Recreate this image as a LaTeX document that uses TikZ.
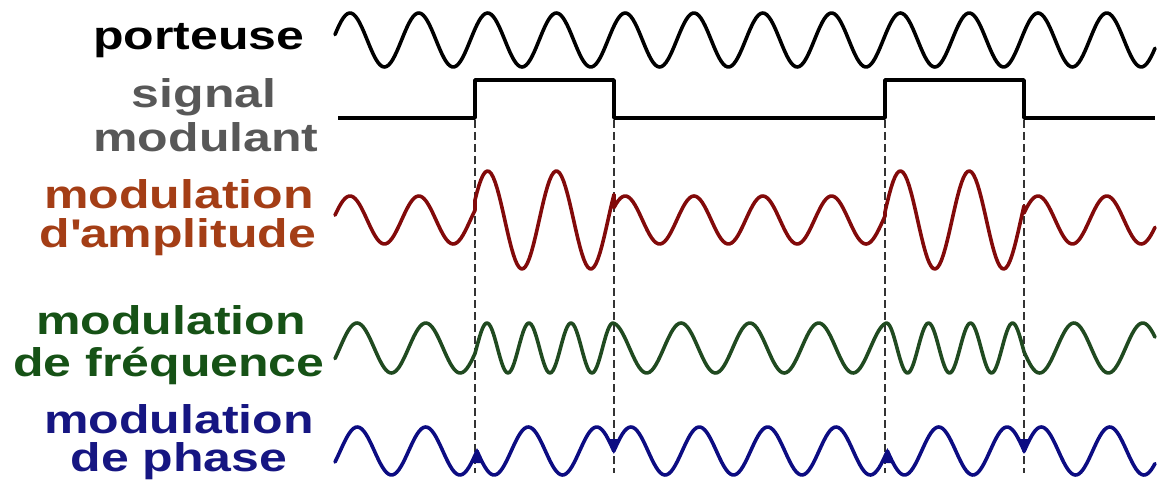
\documentclass[tikz,border=0pt]{standalone}
\usepackage{fontspec}
\usepackage{xcolor}
\usepackage{tikz}
\usetikzlibrary{positioning}

\newfontfamily\labelfont[FakeStretch=1.25]{Liberation Sans}

\definecolor{sigtext}{RGB}{88,88,88}
\definecolor{amtext}{RGB}{164,62,22}
\definecolor{amwave}{RGB}{130,10,10}
\definecolor{fmtext}{RGB}{22,82,22}
\definecolor{fmwave}{RGB}{32,74,32}
\definecolor{pmtext}{RGB}{22,22,130}
\definecolor{pmwave}{RGB}{12,12,130}

\begin{document}
\begin{tikzpicture}[x=1pt, y=-1pt,
    lbl/.style={anchor=base, inner sep=0pt, font=\labelfont\bfseries\fontsize{40}{44}\selectfont},
    wave/.style={line width=3.6pt, line join=round, line cap=round},
    guide/.style={dash pattern=on 8pt off 4pt, line width=2.2pt, black!80},
    declare function={car(\t)=cos((\t-350)/68.8*360);
                      pm(\t,\s)=cos(((\t-357.3)/68.4+\s)*360);}]

\useasboundingbox (0,0) rectangle (1158,489);

% Labels
\node[lbl] (porteuse) at (199,50) {porteuse};
\node[lbl, sigtext] (signal) at (204,108) {signal};
\node[lbl, sigtext] (modulant) at (206,152) {modulant};
\node[lbl, amtext] (am1) at (179,208) {modulation};
\node[lbl, amtext] (am2) at (178,247) {d\textquotesingle amplitude};
\node[lbl, fmtext] (fm1) at (171,334) {modulation};
\node[lbl, fmtext] (fm2) at (169,376) {de fréquence};
\node[lbl, pmtext] (pm1) at (179,433) {modulation};
\node[lbl, pmtext] (pm2) at (179,471) {de phase};

% Dashed guides at the edges of the modulating signal
\foreach \xe in {475, 614, 885, 1024} {
    \draw[guide] (\xe,120) -- (\xe,473);
}

% Carrier
\draw[wave] plot[domain=335:1155, samples=400] (\x, {40-27*car(\x)});

% Modulating signal
\draw[wave, line cap=butt] (338,118) -- (475,118) -- (475,80) -- (614,80) -- (614,118)
    -- (885,118) -- (885,80) -- (1024,80) -- (1024,118) -- (1155,118);

% Amplitude modulation
\draw[wave, amwave]
    plot[domain=335:475, samples=70] (\x, {220-24*car(\x)})
    -- plot[domain=475:614, samples=70] (\x, {220-49*car(\x)})
    -- plot[domain=614:885, samples=130] (\x, {220-24*car(\x)})
    -- plot[domain=885:1024, samples=70] (\x, {220-49*car(\x)})
    -- plot[domain=1024:1155, samples=70] (\x, {220-24*car(\x)});

% Frequency modulation (phase continuous)
\draw[wave, fmwave]
    plot[domain=335:475, samples=70] (\x, {348-25*cos(((\x-357)/68.8)*360)})
    -- plot[domain=475:614, samples=90] (\x, {348-25*cos((1.715+(\x-475)/42)*360)})
    -- plot[domain=614:885, samples=130] (\x, {348-25*cos((5.025+(\x-614)/68.8)*360)})
    -- plot[domain=885:1024, samples=90] (\x, {348-25*cos((8.964+(\x-885)/42)*360)})
    -- plot[domain=1024:1155, samples=70] (\x, {348-25*cos((12.274+(\x-1024)/68.8)*360)});

% Phase modulation (half period jumps)
\draw[wave, pmwave]
    plot[domain=335:477, samples=70] (\x, {451-24*pm(\x,0)})
    -- plot[domain=477:613.8, samples=70] (\x, {451-24*pm(\x,0.5)})
    -- plot[domain=613.8:887.4, samples=130] (\x, {451-24*pm(\x,0)})
    -- plot[domain=887.4:1024, samples=70] (\x, {451-24*pm(\x,0.5)})
    -- plot[domain=1024:1155, samples=70] (\x, {451-24*pm(\x,0)});
\foreach \xc in {477, 887.4} {
    \fill[pmwave] (\xc-6,463) -- (\xc,448) -- (\xc+6,463) -- cycle;
}
\foreach \xc in {613.8, 1024} {
    \fill[pmwave] (\xc-6,439) -- (\xc,454) -- (\xc+6,439) -- cycle;
}
\end{tikzpicture}
\end{document}
